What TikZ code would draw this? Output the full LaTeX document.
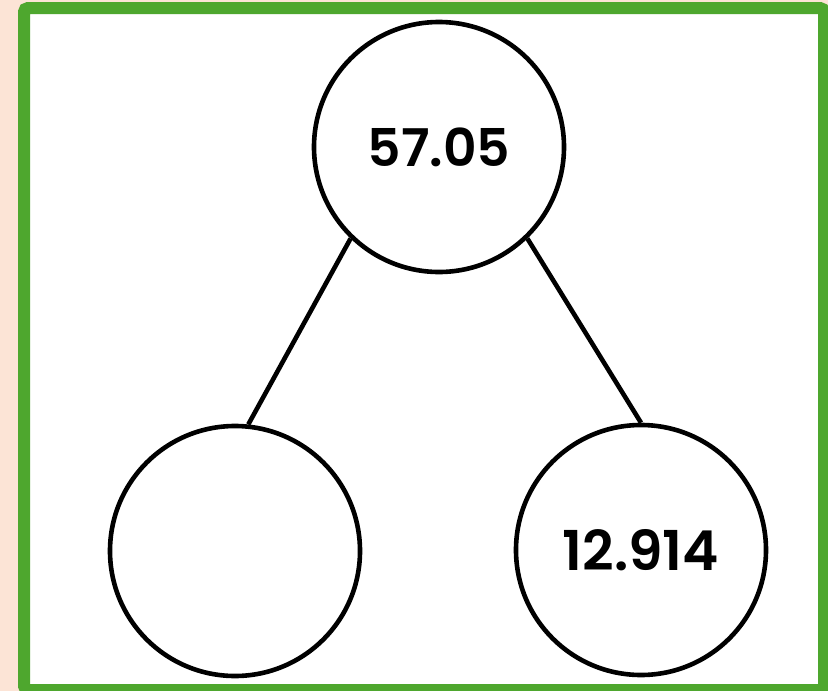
\documentclass[tikz,border=0pt]{standalone}
\usepackage{fontspec}
\newfontfamily\numfont{Poppins SemiBold}
\definecolor{peach}{RGB}{252,228,214}
\definecolor{framegreen}{RGB}{78,167,46}
\begin{document}
\begin{tikzpicture}[x=1pt,y=-1pt,
  bubble/.style={circle,draw=black,line width=4.6pt,minimum size=250pt,inner sep=0pt,font=\numfont\fontsize{52}{60}\selectfont},
  link/.style={draw=black,line width=4.6pt}]
\useasboundingbox (0,0) rectangle (828,691);
\fill[peach] (0,0) rectangle (828,691);
\draw[framegreen,line width=12pt,fill=white,rounded corners=4pt] (24,8) rectangle (824,690);
\node[bubble] (top) at (439,147) {57.05};
\node[bubble] (left) at (235,551) {};
\node[bubble] (right) at (641,550) {\fontsize{55}{60}\selectfont 12.914};
\draw[link] (top.-134) -- (left.84);
\draw[link] (top.-46) -- (right.90);
\end{tikzpicture}
\end{document}
